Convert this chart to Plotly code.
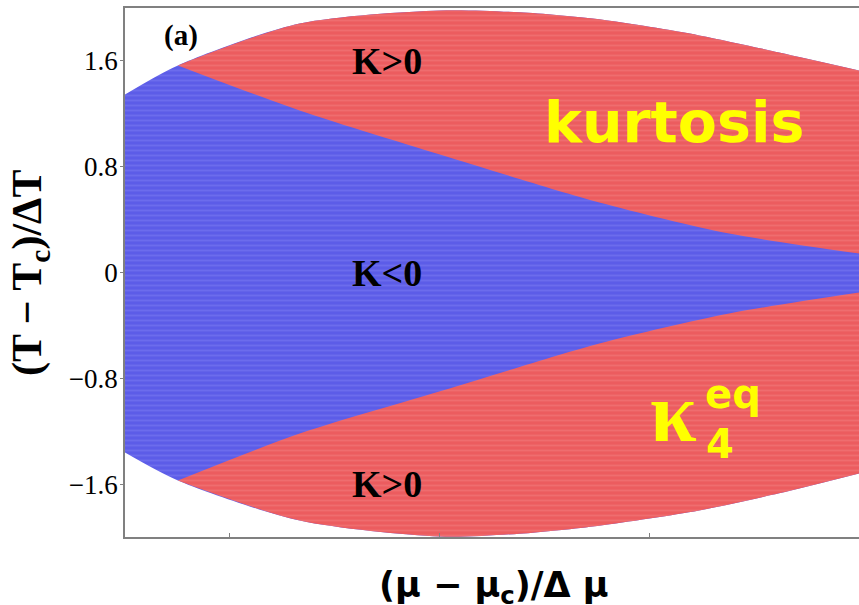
import plotly.graph_objects as go

# Outer boundary of the kurtosis region (upper and lower edges)
mu_outer = [-1.5, -1.248, -0.667, 0.0, 0.381, 0.762, 1.238, 1.619, 2.0]
t_outer_top = [1.346, 1.566, 1.883, 1.982, 1.967, 1.914, 1.793, 1.664, 1.528]
t_outer_bot = [-1.362, -1.573, -1.876, -1.997, -1.975, -1.914, -1.80, -1.67, -1.52]

# Boundary between K<0 (wedge) and K>0
mu_wedge = [-1.248, -0.667, 0.048, 0.762, 1.381, 2.0]
t_wedge_top = [1.566, 1.225, 0.870, 0.530, 0.295, 0.144]
t_wedge_bot = [-1.573, -1.218, -0.877, -0.537, -0.310, -0.151]

x_ticks = [-1, 0, 1]
y_ticks = [1.6, 0.8, 0, -0.8, -1.6]
y_tick_text = ["1.6", "0.8", "0", "\u22120.8", "\u22121.6"]

RED = "#ec5c5f"
BLUE = "#5c5ce8"
red_pattern = dict(shape="-", bgcolor=RED, fgcolor="#f27d80", size=5, solidity=0.35)
blue_pattern = dict(shape="-", bgcolor=BLUE, fgcolor="#7c7cf2", size=5, solidity=0.35)

fig = go.Figure()


def band(x_lo, y_lo, x_hi, y_hi, color, pattern):
    """Fill the area between two smooth boundary curves."""
    fig.add_trace(go.Scatter(
        x=x_lo, y=y_lo, mode="lines",
        line=dict(width=0, color=color, shape="spline", smoothing=0.8),
        hoverinfo="skip", showlegend=False,
    ))
    fig.add_trace(go.Scatter(
        x=x_hi, y=y_hi, mode="lines",
        line=dict(width=0, color=color, shape="spline", smoothing=0.8),
        fill="tonexty", fillcolor=color, fillpattern=pattern,
        hoverinfo="skip", showlegend=False,
    ))


# K<0 everywhere inside the outer lens first
band(mu_outer, t_outer_bot, mu_outer, t_outer_top, BLUE, blue_pattern)
# K>0 above the upper wedge edge
band(mu_wedge, t_wedge_top, mu_outer[1:], t_outer_top[1:], RED, red_pattern)
# K>0 below the lower wedge edge
band(mu_outer[1:], t_outer_bot[1:], mu_wedge, t_wedge_bot, RED, red_pattern)

serif = "Liberation Serif"
sans = "DejaVu Sans"

annotations = [
    dict(x=-1.235, y=1.795, text="<b>(a)</b>", font=dict(family=serif, size=29, color="black")),
    dict(x=-0.25, y=1.6, text="<b>K>0</b>", font=dict(family=serif, size=38, color="black")),
    dict(x=-0.25, y=0.0, text="<b>K<0</b>", font=dict(family=serif, size=38, color="black")),
    dict(x=-0.25, y=-1.6, text="<b>K>0</b>", font=dict(family=serif, size=38, color="black")),
    dict(x=1.12, y=1.135, text="<b>kurtosis</b>", font=dict(family=sans, size=57, color="#ffff00")),
    dict(x=1.115, y=-1.06, text="<b>\u03ba</b>", font=dict(family=serif, size=84, color="#ffff00")),
    dict(x=1.4, y=-0.92, text="<b>eq</b>", font=dict(family=sans, size=40, color="#ffff00")),
    dict(x=1.335, y=-1.3, text="<b>4</b>", font=dict(family=sans, size=40, color="#ffff00")),
]
for a in annotations:
    a.update(xref="x", yref="y", showarrow=False, xanchor="center", yanchor="middle")

# Axis titles
annotations.append(dict(
    xref="paper", yref="paper", x=-0.13, y=0.50,
    text="<b>(T \u2212 T<sub>c</sub>)/\u0394T</b>",
    textangle=-90, showarrow=False, xanchor="center", yanchor="middle",
    font=dict(family=serif, size=42, color="black"),
))
annotations.append(dict(
    xref="paper", yref="paper", x=0.503, y=-0.096,
    text="<b>(\u03bc \u2212 \u03bc<sub>c</sub>)/\u0394 \u03bc</b>",
    showarrow=False, xanchor="center", yanchor="middle",
    font=dict(family=sans, size=35, color="black"),
))

fig.update_layout(
    width=859, height=605,
    margin=dict(l=125, r=0, t=8, b=68),
    paper_bgcolor="white", plot_bgcolor="white",
    annotations=annotations,
    xaxis=dict(
        range=[-1.5, 2.0], showgrid=False, zeroline=False,
        showline=True, linecolor="#808080", linewidth=1.5, mirror=True,
        tickvals=x_ticks, ticks="inside", ticklen=4, tickcolor="#808080",
        showticklabels=False,
    ),
    yaxis=dict(
        range=[-2.0, 2.0], showgrid=False, zeroline=False,
        showline=True, linecolor="#808080", linewidth=1.5,
        tickvals=y_ticks, ticktext=y_tick_text, ticks="outside", ticklen=3,
        tickcolor="#808080", ticklabelstandoff=-3,
        tickfont=dict(family=serif, size=27, color="black"),
    ),
)

fig.write_html("out.html")
